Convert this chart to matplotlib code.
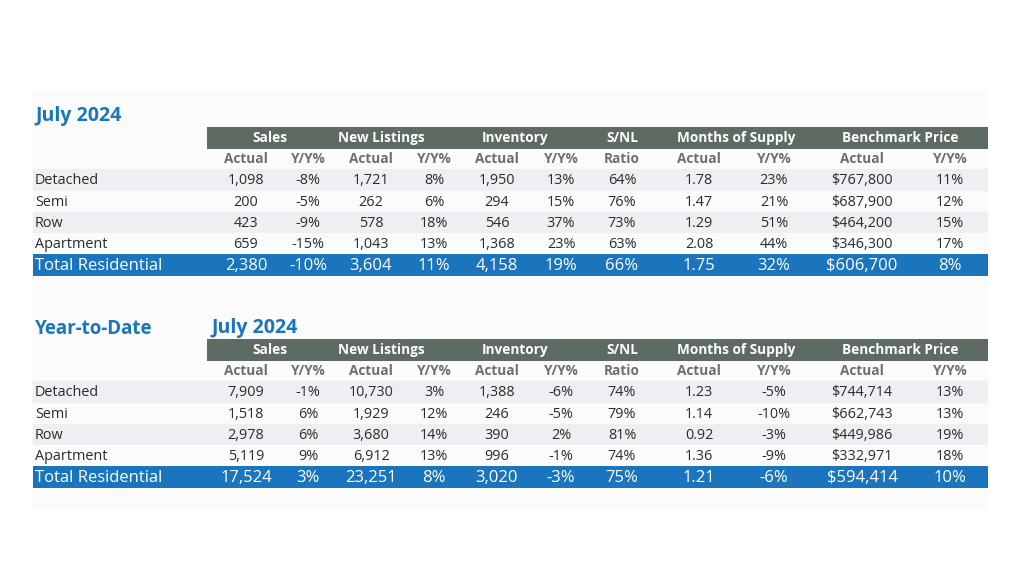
import matplotlib
matplotlib.use('Agg')
import matplotlib.pyplot as plt
from matplotlib.patches import Rectangle

# ─── Data ────────────────────────────────────────────────────────────────────
CATEGORIES = ["Detached", "Semi", "Row", "Apartment", "Total Residential"]
GROUPS = ["Sales", "New Listings", "Inventory", "S/NL", "Months of Supply", "Benchmark Price"]
SUBHEADS = ["Actual", "Y/Y%", "Actual", "Y/Y%", "Actual", "Y/Y%", "Ratio",
            "Actual", "Y/Y%", "Actual", "Y/Y%"]

# July 2024 (month)
M_SALES = ["1,098", "200", "423", "659", "2,380"]
M_SALES_YY = ["-8%", "-5%", "-9%", "-15%", "-10%"]
M_NL = ["1,721", "262", "578", "1,043", "3,604"]
M_NL_YY = ["8%", "6%", "18%", "13%", "11%"]
M_INV = ["1,950", "294", "546", "1,368", "4,158"]
M_INV_YY = ["13%", "15%", "37%", "23%", "19%"]
M_SNL = ["64%", "76%", "73%", "63%", "66%"]
M_MOS = ["1.78", "1.47", "1.29", "2.08", "1.75"]
M_MOS_YY = ["23%", "21%", "51%", "44%", "32%"]
M_PRICE = ["$767,800", "$687,900", "$464,200", "$346,300", "$606,700"]
M_PRICE_YY = ["11%", "12%", "15%", "17%", "8%"]

# Year-to-date July 2024
Y_SALES = ["7,909", "1,518", "2,978", "5,119", "17,524"]
Y_SALES_YY = ["-1%", "6%", "6%", "9%", "3%"]
Y_NL = ["10,730", "1,929", "3,680", "6,912", "23,251"]
Y_NL_YY = ["3%", "12%", "14%", "13%", "8%"]
Y_INV = ["1,388", "246", "390", "996", "3,020"]
Y_INV_YY = ["-6%", "-5%", "2%", "-1%", "-3%"]
Y_SNL = ["74%", "79%", "81%", "74%", "75%"]
Y_MOS = ["1.23", "1.14", "0.92", "1.36", "1.21"]
Y_MOS_YY = ["-5%", "-10%", "-3%", "-9%", "-6%"]
Y_PRICE = ["$744,714", "$662,743", "$449,986", "$332,971", "$594,414"]
Y_PRICE_YY = ["13%", "13%", "19%", "18%", "10%"]

MONTH_COLS = [M_SALES, M_SALES_YY, M_NL, M_NL_YY, M_INV, M_INV_YY, M_SNL,
              M_MOS, M_MOS_YY, M_PRICE, M_PRICE_YY]
YTD_COLS = [Y_SALES, Y_SALES_YY, Y_NL, Y_NL_YY, Y_INV, Y_INV_YY, Y_SNL,
            Y_MOS, Y_MOS_YY, Y_PRICE, Y_PRICE_YY]

# ─── Layout / style ──────────────────────────────────────────────────────────
FONT = "Open Sans"
BLUE = "#1B75BC"
HEAD_GRAY = "#5E6B62"
SUB_GRAY = "#6E6E6E"
SHADE = "#EFEEF2"
TEXT = "#2B2B2B"
PANEL = "#FBFBFB"

COL_X = [246, 308, 371, 434, 497, 561, 622, 699, 774, 862, 950]
GROUP_X = [270, 381, 515, 622, 736, 900]
LEFT, RIGHT = 33, 988
HEAD_LEFT = 207
PITCH = 21.2
ROW_H = 21.5
VA = 'center_baseline'
DY = -1.0  # nudge text up a touch inside its band

plt.rcParams['font.family'] = [FONT, 'DejaVu Sans']
fig = plt.figure(figsize=(10.24, 5.76), dpi=100)
ax = fig.add_axes([0, 0, 1, 1])
ax.set_xlim(0, 1024)
ax.set_ylim(576, 0)
ax.axis('off')

ax.add_patch(Rectangle((32, 90), RIGHT - 32, 420, fc=PANEL, ec='none', zorder=0))


def draw_table(y_head, cols):
    # group header band
    ax.add_patch(Rectangle((HEAD_LEFT, y_head - 10.5), RIGHT - HEAD_LEFT, 21.5,
                           fc=HEAD_GRAY, ec='none', zorder=1))
    for g, gx in zip(GROUPS, GROUP_X):
        ax.text(gx, y_head + DY, g, ha='center', va=VA, fontsize=9.8,
                fontweight='bold', color='white', zorder=3)
    y_sub = y_head + 21.3
    for s, sx in zip(SUBHEADS, COL_X):
        ax.text(sx, y_sub + DY, s, ha='center', va=VA, fontsize=9.8,
                fontweight='bold', color=SUB_GRAY, zorder=3)
    y0 = y_sub + 21.2
    n = len(CATEGORIES)
    for i, cat in enumerate(CATEGORIES):
        y = y0 + PITCH * i
        total = (i == n - 1)
        if total:
            ax.add_patch(Rectangle((LEFT, y - ROW_H / 2), RIGHT - LEFT, ROW_H,
                                   fc=BLUE, ec='none', zorder=1))
        elif i % 2 == 0:
            ax.add_patch(Rectangle((LEFT, y - ROW_H / 2), RIGHT - LEFT, ROW_H,
                                   fc=SHADE, ec='none', zorder=1))
        col = 'white' if total else TEXT
        fs = 12 if total else 10.4
        ax.text(35, y + DY, cat, ha='left', va=VA, fontsize=fs, color=col, zorder=3)
        for vals, cx in zip(cols, COL_X):
            ax.text(cx, y + DY, vals[i], ha='center', va=VA, fontsize=fs,
                    color=col, zorder=3)


# ─── Month table ─────────────────────────────────────────────────────────────
ax.text(35, 114, "July 2024", ha='left', va=VA, fontsize=14,
        fontweight='bold', color=BLUE)
draw_table(137.5, MONTH_COLS)

# ─── Year-to-date table ──────────────────────────────────────────────────────
ax.text(35, 326, "Year-to-Date", ha='left', va=VA, fontsize=13.5,
        fontweight='bold', color=BLUE)
ax.text(211, 326, "July 2024", ha='left', va=VA, fontsize=14,
        fontweight='bold', color=BLUE)
draw_table(349.5, YTD_COLS)

plt.savefig("out.png", dpi=100, facecolor='white')
plt.close()
